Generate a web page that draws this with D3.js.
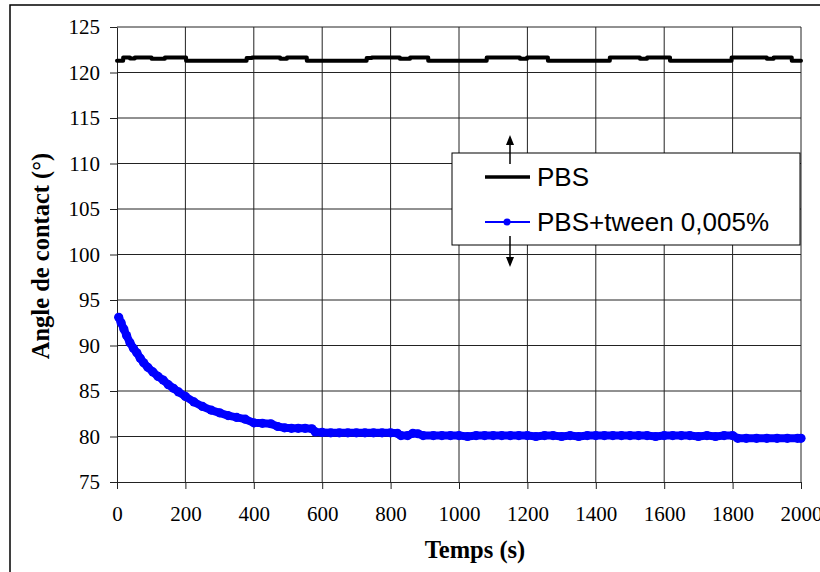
<!DOCTYPE html>
<html><head><meta charset="utf-8">
<script src="https://cdn.jsdelivr.net/npm/d3@7"></script>
<style>
body{margin:0;background:#fff;}
svg{display:block;}
</style></head>
<body>
<svg id="chart" width="820" height="572"></svg>
<script>
// ---- data ----
const xTicks = [0,200,400,600,800,1000,1200,1400,1600,1800,2000];
const yTicks = [75,80,85,90,95,100,105,110,115,120,125];
const seriesNames = ["PBS","PBS+tween 0,005%"];

// PBS: step levels (time, angle)
const pbsTime  = [0,18,38,52,101,140,202,379,395,477,497,555,730,745,827,857,910,1081,1178,1199,1260,1441,1529,1550,1617,1797,1900,1920,1973,2000];
const pbsAngle = [121.3,121.65,121.55,121.65,121.5,121.65,121.3,121.6,121.65,121.5,121.65,121.3,121.6,121.65,121.5,121.65,121.3,121.65,121.5,121.65,121.3,121.65,121.5,121.65,121.3,121.65,121.5,121.65,121.3,121.3];

// PBS+tween 0,005%
const twTime  = [5,12,20,28,38,48,58,68,78,90,105,120,135,150,165,180,200,225,250,275,300,325,350,375,400,425,450,470,490,510,530,550,570,580,600,625,650,675,700,725,750,775,800,820,830,850,865,880,895,925,950,975,1000,1025,1050,1075,1100,1125,1150,1175,1200,1225,1250,1275,1300,1325,1350,1375,1400,1425,1450,1475,1500,1525,1550,1575,1600,1625,1650,1675,1700,1725,1750,1775,1800,1815,1840,1870,1900,1930,1960,1990,2000];
const twAngle = [93.1,92.5,91.8,91.1,90.3,89.7,89.2,88.6,88.1,87.6,87.1,86.6,86.2,85.7,85.3,84.9,84.4,83.8,83.3,82.9,82.6,82.3,82.1,81.9,81.5,81.45,81.4,81.1,80.95,80.9,80.9,80.9,80.85,80.5,80.45,80.4,80.4,80.4,80.4,80.4,80.4,80.4,80.4,80.35,80.1,80.1,80.35,80.3,80.1,80.1,80.1,80.1,80.1,80.0,80.1,80.1,80.1,80.1,80.1,80.1,80.1,80.0,80.1,80.1,80.0,80.1,80.0,80.1,80.1,80.1,80.1,80.1,80.1,80.1,80.1,80.0,80.1,80.1,80.1,80.1,80.0,80.1,80.0,80.1,80.1,79.8,79.8,79.8,79.8,79.8,79.8,79.8,79.8];

// ---- drawing ----
const svg = d3.select("#chart");
const x = d3.scaleLinear().domain([0,2000]).range([117,801]);
const y = d3.scaleLinear().domain([75,125]).range([482,27]);
const serif = "'Liberation Serif','Times New Roman',serif";
const sans = "'Liberation Sans',Arial,sans-serif";

// outer border
svg.append("rect").attr("x",10).attr("y",5).attr("width",830).attr("height",590)
  .attr("fill","none").attr("stroke","#000").attr("stroke-width",1.5);

// grid
const g = svg.append("g");
g.selectAll(".gx").data(xTicks.slice(1)).join("line")
  .attr("x1",d=>x(d)).attr("x2",d=>x(d)).attr("y1",y(125)).attr("y2",y(75))
  .attr("stroke","#222").attr("stroke-width",1);
g.selectAll(".gy").data(yTicks.slice(1)).join("line")
  .attr("y1",d=>y(d)).attr("y2",d=>y(d)).attr("x1",x(0)).attr("x2",x(2000))
  .attr("stroke","#222").attr("stroke-width",1);

// axes
const ax = svg.append("g").attr("transform",`translate(0,${y(75)})`)
  .call(d3.axisBottom(x).tickValues(xTicks).tickSize(7).tickSizeOuter(0).tickPadding(17).tickFormat(d3.format("d")));
const ay = svg.append("g").attr("transform",`translate(${x(0)},0)`)
  .call(d3.axisLeft(y).tickValues(yTicks).tickSize(7).tickSizeOuter(0).tickPadding(10).tickFormat(d3.format("d")));
[ax,ay].forEach(a=>{
  a.selectAll("path,line").attr("stroke","#222").attr("stroke-width",1);
  a.selectAll("text").attr("font-family",serif).attr("font-size",21).attr("fill","#000");
});

// series
const pbsData = pbsTime.map((t,i)=>[t,pbsAngle[i]]);
const twData = twTime.map((t,i)=>[t,twAngle[i]]);
svg.append("path").datum(pbsData)
  .attr("d",d3.line().x(d=>x(d[0])).y(d=>y(d[1])).curve(d3.curveStepAfter))
  .attr("fill","none").attr("stroke","#000").attr("stroke-width",4).attr("stroke-linejoin","round").attr("stroke-linecap","round");

svg.append("path").datum(twData)
  .attr("d",d3.line().x(d=>x(d[0])).y(d=>y(d[1])))
  .attr("fill","none").attr("stroke","#0000ff").attr("stroke-width",8).attr("stroke-linejoin","round").attr("stroke-linecap","round");
svg.append("g").selectAll("circle").data(twData).join("circle")
  .attr("cx",d=>x(d[0])).attr("cy",d=>y(d[1])).attr("r",4.6).attr("fill","#0000ff");

// legend
const lg = svg.append("g");
lg.append("rect").attr("x",452).attr("y",153).attr("width",348).attr("height",92)
  .attr("fill","#fff").attr("stroke","#000").attr("stroke-width",1);
lg.append("line").attr("x1",485).attr("x2",530).attr("y1",177).attr("y2",177)
  .attr("stroke","#000").attr("stroke-width",3.5);
lg.append("text").attr("x",537).attr("y",186).text(seriesNames[0])
  .attr("font-family",sans).attr("font-size",26).attr("fill","#000");
lg.append("line").attr("x1",485).attr("x2",530).attr("y1",222).attr("y2",222)
  .attr("stroke","#0000ff").attr("stroke-width",2);
lg.append("circle").attr("cx",507).attr("cy",222).attr("r",3.5).attr("fill","#0000ff");
lg.append("text").attr("x",537).attr("y",231).text(seriesNames[1])
  .attr("font-family",sans).attr("font-size",26).attr("fill","#000");

// arrows
function arrow(x0,y0,y1){
  const dir = Math.sign(y1-y0);
  lg.append("line").attr("x1",x0).attr("x2",x0).attr("y1",y0).attr("y2",y1-dir*8)
    .attr("stroke","#000").attr("stroke-width",1.5);
  lg.append("path").attr("d",`M${x0},${y1} L${x0-4},${y1-dir*10} L${x0+4},${y1-dir*10} Z`).attr("fill","#000");
}
arrow(510,164,135);
arrow(510,236,267);

// axis titles
svg.append("text").attr("x",475).attr("y",558).attr("text-anchor","middle")
  .attr("font-family",serif).attr("font-size",24.5).attr("font-weight","bold").text("Temps (s)");
svg.append("text").attr("transform","translate(49,256) rotate(-90)").attr("text-anchor","middle")
  .attr("font-family",serif).attr("font-size",24.5).attr("font-weight","bold").text("Angle de contact (°)");
</script>
</body></html>
